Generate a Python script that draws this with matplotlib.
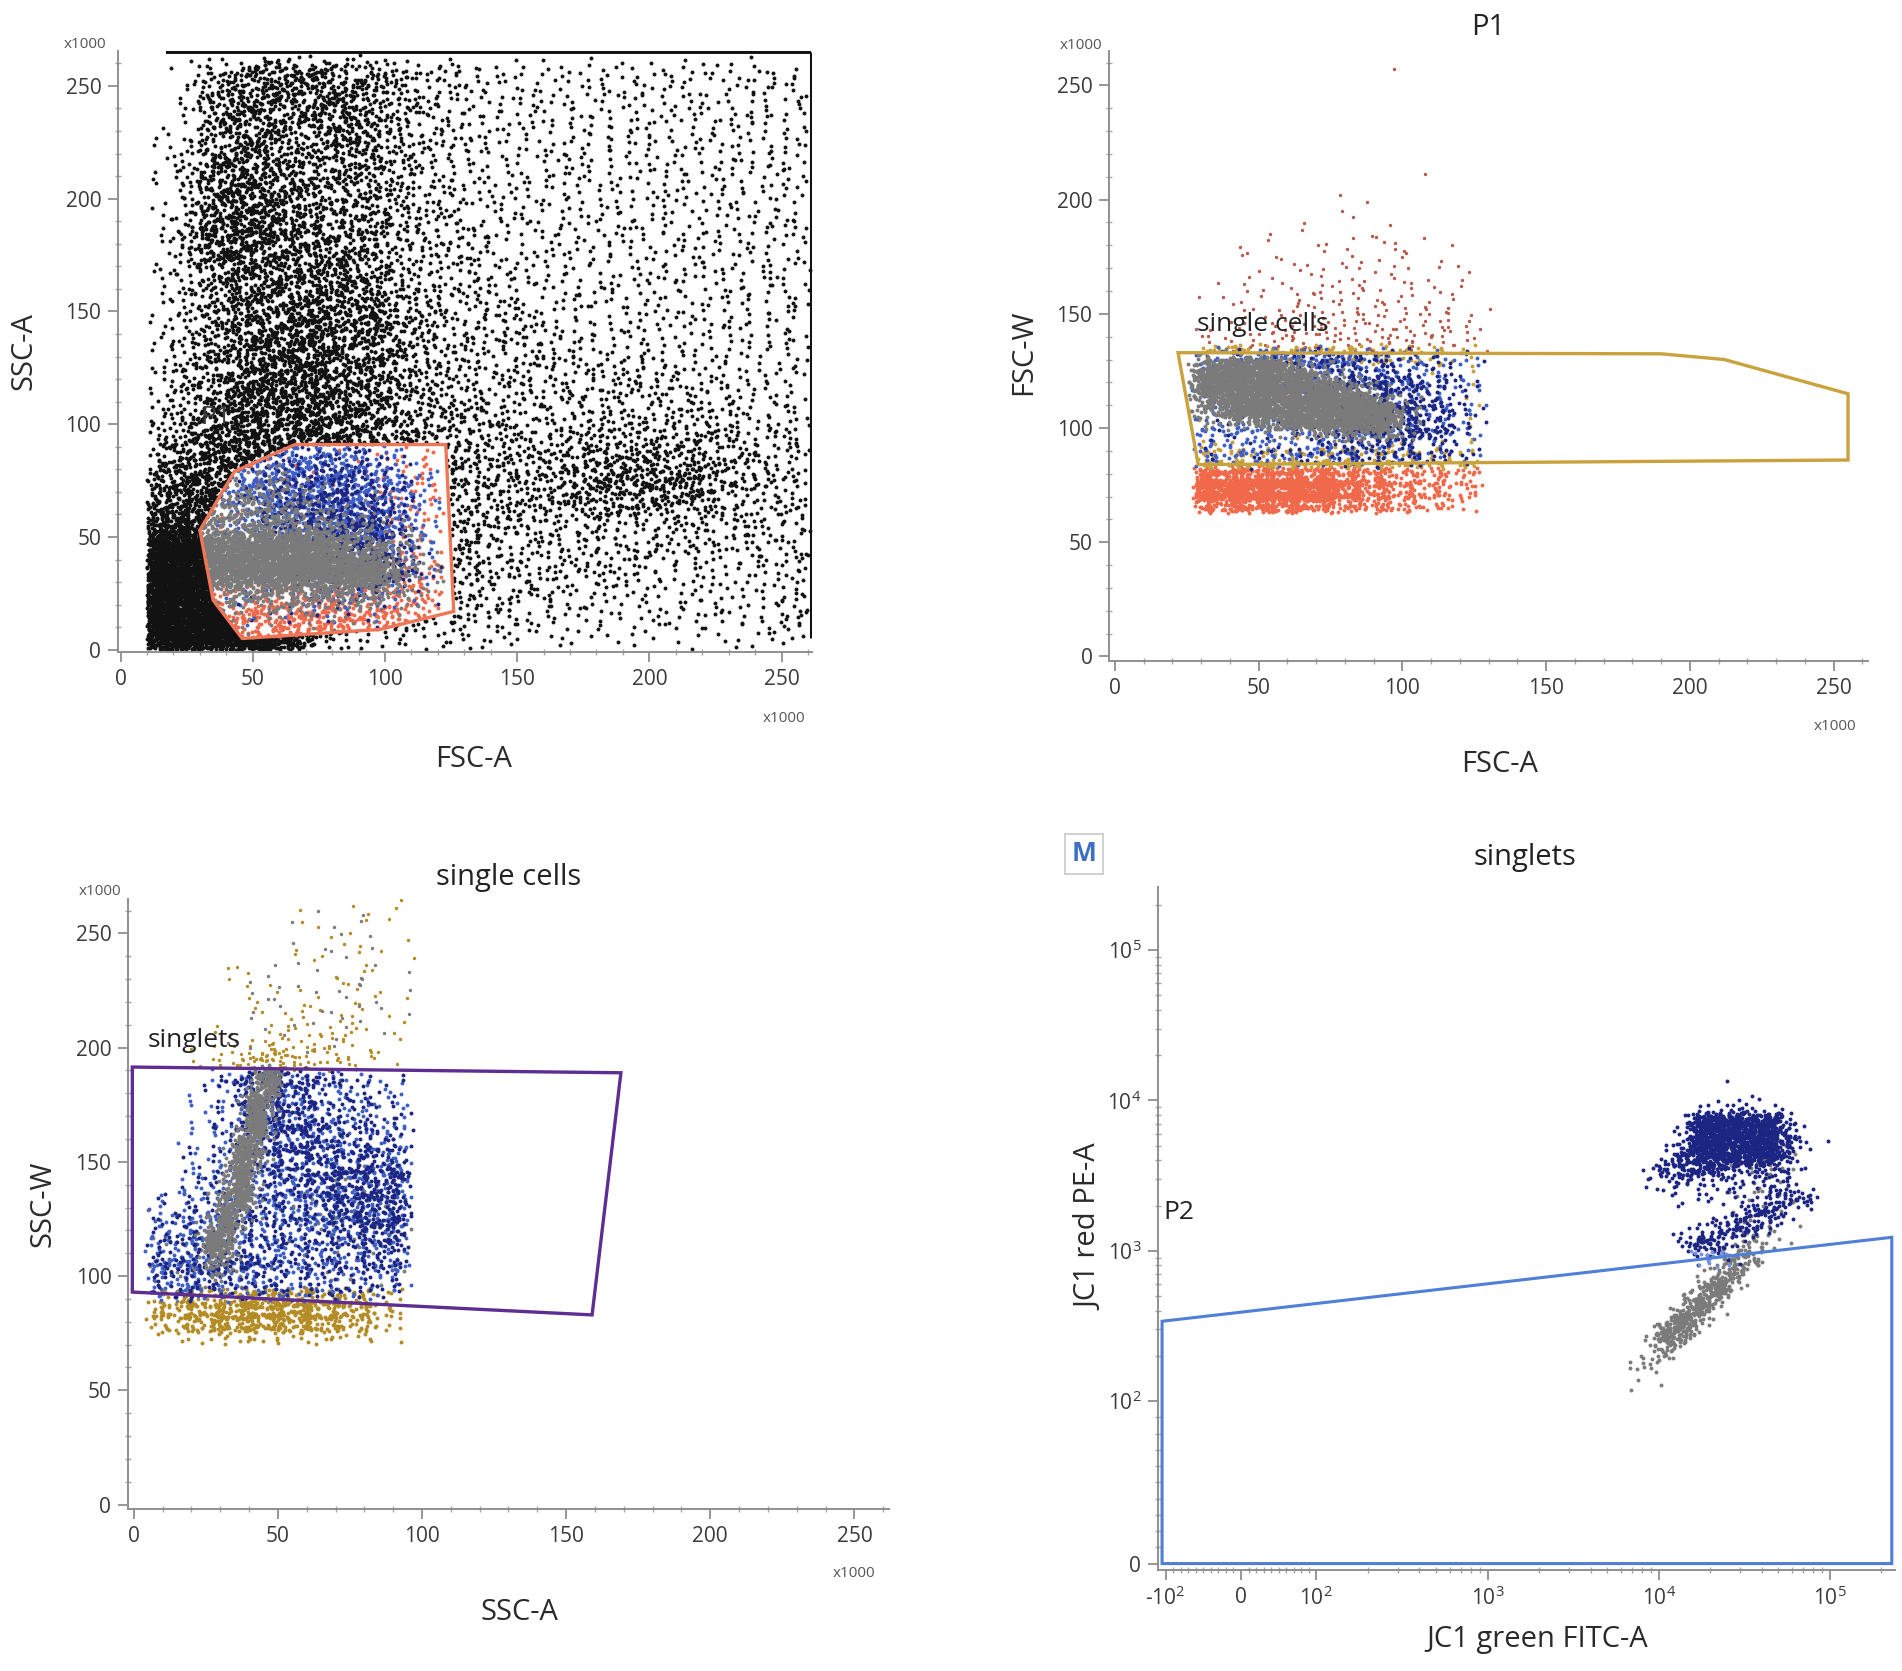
import numpy as np
import matplotlib
matplotlib.use('Agg')
import matplotlib.pyplot as plt
from matplotlib.path import Path
from matplotlib.ticker import MultipleLocator, FixedLocator

plt.rcParams['font.family'] = ['Open Sans', 'DejaVu Sans']
plt.rcParams['mathtext.fontset'] = 'custom'
plt.rcParams['mathtext.rm'] = 'Open Sans'
plt.rcParams['mathtext.default'] = 'regular'

# ---------------------------------------------------------------
# data: event density, one digit (0-9) per cell,
# rows listed top to bottom
# ---------------------------------------------------------------
LEVELS = [0, 2, 4, 7, 11, 17, 26, 38, 60, 160]

# panel 1: SSC-A vs FSC-A (x1000), 10x10 cells from (0, 0)
TL_BLACK = [
    "00145666554332222222222222",
    "00256666654332222222222222",
    "00256656654332222222222222",
    "01256655654332222222222222",
    "01366655554322222222222222",
    "01367665554332222222222222",
    "01367765554332222222222222",
    "01477766554333222222222222",
    "01467666654333222222222222",
    "01356666654333222222222222",
    "01356666664433322222222222",
    "02356677675433332222222222",
    "02356777665433333222222222",
    "02456777665433333333322222",
    "02457777665443333333333222",
    "03467777765444333333333322",
    "04577777765544433444444333",
    "05677777765554444555554433",
    "06777777765554445566665433",
    "07788777765544444555554333",
    "08888777765544433333333333",
    "09998777765544333333333323",
    "09999777665544333333222223",
    "09999877654443333222222223",
    "09999986544433322222222223",
    "09999984322222211111111112",
]
SAT_TOP_X = [17, 261]
SAT_TOP_Y = [265, 265]
SAT_RIGHT_X = [261, 261]
SAT_RIGHT_Y = [5, 265]
# P1 events, 10x10 cells from (20, 0)
TL_SALMON = [
    "00011112230",
    "00111111330",
    "01111111330",
    "01111111330",
    "01111112330",
    "01111122440",
    "03455555550",
    "04677776650",
    "02566665300",
]
TL_ROYAL = [
    "00356654300",
    "02577776530",
    "02577776530",
    "01466677530",
    "00123456420",
    "00012345420",
    "00222333210",
    "00111111100",
    "00000000000",
]
TL_NAVY = [
    "00123343100",
    "00135554300",
    "00146665300",
    "00145677400",
    "00012467410",
    "00011357520",
    "00112222110",
    "00011111000",
    "00000000000",
]
TL_GRAY = [
    "00120000000",
    "03443100000",
    "05665321000",
    "07777654200",
    "09999987520",
    "09999999630",
    "05777776421",
    "01222221100",
    "00000000000",
]
GATE_P1 = [(46, 5), (98, 9), (126, 17), (123, 91), (66, 91), (43, 79), (30, 53), (35, 22)]

# panel 2: FSC-W vs FSC-A, columns of 10 from x = 28
TR_SALMON_BAND = [          # rows of 5 from y = 63
    "8888876554",
    "9999987654",
    "9999987653",
    "7888766542",
]
TR_SALMON_SPARSE = [        # rows of 10 from y = 135
    "0000010000",
    "0001011000",
    "0111112110",
    "0112222211",
    "1122332221",
    "1223333332",
    "2334444433",
]
TR_OUT_X = [97, 108]
TR_OUT_Y = [257, 211]
TR_GOLD = [                 # rows of 5 from y = 82
    "4555544432",
    "3444444332",
    "1000000011",
    "1000000001",
    "1000000001",
    "1000000001",
    "1000000001",
    "1000000001",
    "2111111112",
    "5555555443",
    "6666666554",
]
TR_ROYAL = [                # rows of 10 from y = 84
    "4566654322",
    "4445655432",
    "3333455432",
    "4444455432",
    "4444444321",
]
TR_NAVY = [
    "1223444321",
    "1112456542",
    "1111357652",
    "1112356652",
    "1122344432",
]
TR_GRAY = [                 # rows of 5 from y = 95
    "2210000000",
    "8996300000",
    "9999730000",
    "9999973000",
    "8999996200",
    "7999999300",
    "3689999300",
    "0013677200",
]
GATE_SINGLE = [(22, 133), (190, 132.5), (212, 130), (255, 115), (255, 86), (29, 84)]

# panel 3: SSC-W vs SSC-A, columns of 10 from x = 5
BL_GOLD_BAND = [            # rows of 5 from y = 70
    "355666552",
    "577888763",
    "678888763",
    "467777652",
    "123333321",
]
BL_GOLD_TOP = [             # rows of 10 from y = 190
    "000000011",
    "000001111",
    "000001111",
    "001101111",
    "000111111",
    "000122221",
    "001233321",
    "013565421",
]
BL_GRAY_TOP = [             # rows of 10 from y = 200
    "000001110",
    "000001010",
    "000011111",
    "000111111",
    "000111111",
    "001111110",
]
BL_ROYAL = [                # rows of 10 from y = 90
    "002454321",
    "012454332",
    "012455433",
    "012455544",
    "023455555",
    "134455555",
    "345445555",
    "455444444",
    "565544444",
    "454443332",
]
BL_NAVY = [
    "002565321",
    "002565332",
    "002566443",
    "012556554",
    "012455666",
    "123444666",
    "233444566",
    "344444455",
    "455544444",
    "343333332",
]
BL_GRAY_LOW = [             # rows of 10 from y = 90
    "000001110",
    "000002321",
    "110002331",
    "221001221",
    "222101111",
    "111111110",
]
BL_GRAY_STREAK = [          # columns of 5 from x = 20, rows of 10 from y = 100
    "0000690",
    "0002960",
    "0005930",
    "0019810",
    "0069410",
    "0189400",
    "0595100",
    "1981000",
    "2751000",
]
GATE_SINGLETS = [(-0.5, 191.5), (169, 189), (159, 83), (-0.5, 93)]

# panel 4: JC1 red vs green, log10 cells of 0.1 from log x = 3.8
BR_GRAY = [                 # rows from log y = 2.1
    "0000000121",
    "0000000231",
    "0000001341",
    "0000001231",
    "0000001221",
    "0000001221",
    "0000001331",
    "0000002631",
    "0000008700",
    "0000078000",
    "0000691000",
    "0005940000",
    "0029600000",
    "0098000000",
    "0570000000",
    "2510000000",
    "2200000000",
]
BR_NAVY = [                 # rows from log y = 2.9
    "00000121000",
    "00001333210",
    "00039999961",
    "00059999981",
    "00389999971",
    "03788876651",
    "02554333452",
    "00112233676",
    "00011237831",
    "00013686200",
    "00148720000",
    "00002210000",
]
BR_LIGHT = [                # log x from 4.15, rows of 0.05 from log y = 2.9
    "365",
    "253",
]
BR_OUT_X = [98000]
BR_OUT_Y = [5400]
GATE_P2 = [(-105, 0), (-105, 340), (230000, 1230), (230000, 0)]

# colours
BLACK = '#121212'
GRAY = '#7b7b7b'
NAVY = '#1c2682'
ROYAL = '#3f5fc6'
SALMON = '#f0694b'
RUST = '#b65a4b'
GOLD = '#c9a03c'
OLIVE = '#b38c25'
LIGHT = '#7394dc'


def radical_inverse(idx, base):
    out = np.zeros(len(idx))
    f = 1.0 / base
    i = idx.copy()
    while np.any(i > 0):
        out += f * (i % base)
        i //= base
        f /= base
    return out


def cloud(rows, x0, y0, dx, dy, k=1.0, start=1, blur=0.8):
    # spread each cell's count around the cell centre with a triangular
    # kernel; positions come from a Halton sequence (bases 2, 3, 5, 7)
    cxs, cys, ns = [], [], []
    nrow = len(rows)
    for r, row in enumerate(rows):
        for c, ch in enumerate(row):
            n = int(round(LEVELS[int(ch)] * k))
            if n:
                cxs.append(x0 + (c + 0.5) * dx)
                cys.append(y0 + (nrow - 1 - r + 0.5) * dy)
                ns.append(n)
    if not ns:
        return np.array([]), np.array([])
    cx = np.repeat(cxs, ns)
    cy = np.repeat(cys, ns)
    idx = np.arange(start, start + len(cx))
    u = [radical_inverse(idx, b) for b in (2, 3, 5, 7)]
    return (cx + (u[0] + u[1] - 1.0) * dx * blur,
            cy + (u[2] + u[3] - 1.0) * dy * blur)


def dots(ax, xy, color, s=8, z=2):
    ax.scatter(xy[0], xy[1], s=s, c=color, linewidths=0, zorder=z)


def style_linear(ax, xlim, ylim):
    ax.set_xlim(*xlim)
    ax.set_ylim(*ylim)
    for s in ('top', 'right'):
        ax.spines[s].set_visible(False)
    for s in ('left', 'bottom'):
        ax.spines[s].set_color('#8f8f8f')
        ax.spines[s].set_linewidth(1.4)
    ax.xaxis.set_major_locator(MultipleLocator(50))
    ax.xaxis.set_minor_locator(MultipleLocator(10))
    ax.yaxis.set_major_locator(MultipleLocator(50))
    ax.yaxis.set_minor_locator(MultipleLocator(10))
    ax.tick_params(which='major', direction='out', length=7, width=1.3,
                   color='#8f8f8f', labelsize=15, labelcolor='#3a3a3a', pad=5)
    ax.tick_params(which='minor', direction='inout', length=4, width=1.0, color='#a5a5a5')


def labels(ax, xl, yl, xpos, ypos, mult_top, mult_bot):
    ax.text(xpos[0], xpos[1], xl, transform=ax.transAxes, ha='center', va='center',
            fontsize=21, color='#2a2a2a')
    ax.text(ypos[0], ypos[1], yl, transform=ax.transAxes, ha='center', va='center',
            fontsize=21, color='#2a2a2a', rotation=90)
    if mult_top:
        ax.text(mult_top[0], mult_top[1], 'x1000', transform=ax.transAxes, ha='center',
                va='center', fontsize=11, color='#555555')
        ax.text(mult_bot[0], mult_bot[1], 'x1000', transform=ax.transAxes, ha='center',
                va='center', fontsize=11, color='#555555')


fig = plt.figure(figsize=(19.02, 16.71), dpi=100)

# ---------------- panel 1 ----------------
ax = fig.add_axes([0.0620, 0.6098, 0.3649, 0.3597])
p1 = Path(GATE_P1)
bx, by = cloud(TL_BLACK, 0, 0, 10, 10, 1.6, 17, blur=0.9)
keep = ~p1.contains_points(np.column_stack([bx, by]))
keep &= (bx > 10) & (by > 0) & (by < 265) & (bx < 261)
dots(ax, (bx[keep], by[keep]), BLACK)
ax.plot(SAT_TOP_X, SAT_TOP_Y, color=BLACK, lw=2.8, solid_capstyle='butt', zorder=2)
ax.plot(SAT_RIGHT_X, SAT_RIGHT_Y, color=BLACK, lw=2.2, solid_capstyle='butt', zorder=2)
for rows, col, st in ((TL_SALMON, SALMON, 3001), (TL_ROYAL, ROYAL, 5003),
                      (TL_NAVY, NAVY, 7001), (TL_GRAY, GRAY, 9007)):
    cx, cy = cloud(rows, 20, 0, 10, 10, 1.25, st, blur=0.9)
    ins = p1.contains_points(np.column_stack([cx, cy]))
    dots(ax, (cx[ins], cy[ins]), col)
ax.add_patch(plt.Polygon(GATE_P1, closed=True, fill=False, ec='#ef7656', lw=2.4, zorder=4))
ax.text(36, 103, 'P1', fontsize=19, color='#3a3a3a', ha='center', va='center', zorder=5)
style_linear(ax, (-1, 261.5), (-1, 265.5))
labels(ax, 'FSC-A', 'SSC-A', (0.513, -0.178), (-0.135, 0.50), (-0.048, 1.01), (0.96, -0.111))

# ---------------- panel 2 ----------------
ax = fig.add_axes([0.5831, 0.6044, 0.3991, 0.3650])
dots(ax, cloud(TR_SALMON_BAND, 28, 63, 10, 5, 0.85, 101, blur=0.6), SALMON)
dots(ax, cloud(TR_SALMON_SPARSE, 28, 135, 10, 10, 1.1, 2003), RUST, s=6)
dots(ax, (TR_OUT_X, TR_OUT_Y), RUST, s=6)
dots(ax, cloud(TR_GOLD, 28, 82, 10, 5, 0.6, 4001, blur=0.5), GOLD)
dots(ax, cloud(TR_ROYAL, 28, 84, 10, 10, 1.45, 6007, blur=0.7), ROYAL)
dots(ax, cloud(TR_NAVY, 28, 84, 10, 10, 1.45, 8009, blur=0.7), NAVY)
dots(ax, cloud(TR_GRAY, 28, 95, 10, 5, 0.7, 11003), GRAY)
ax.add_patch(plt.Polygon(GATE_SINGLE, closed=True, fill=False, ec='#c9a23e', lw=2.4, zorder=4))
ax.text(51.5, 145.4, 'single cells', fontsize=19, color='#222222', ha='center', va='center', zorder=5)
style_linear(ax, (-2, 262), (-2, 265))
ax.text(0.5, 1.039, 'P1', transform=ax.transAxes, ha='center', va='center', fontsize=21, color='#222222')
labels(ax, 'FSC-A', 'FSC-W', (0.515, -0.170), (-0.112, 0.507), (-0.037, 1.01), (0.957, -0.108))

# ---------------- panel 3 ----------------
ax = fig.add_axes([0.0673, 0.0969, 0.4001, 0.3650])
dots(ax, cloud(BL_GOLD_BAND, 5, 70, 10, 5, 0.7, 211, blur=0.6), OLIVE)
dots(ax, cloud(BL_GOLD_TOP, 5, 190, 10, 10, 1.1, 1409), OLIVE, s=6)
dots(ax, cloud(BL_GRAY_TOP, 5, 200, 10, 10, 1.1, 2609), GRAY, s=6)
dots(ax, cloud(BL_GRAY_LOW, 5, 90, 10, 10, 1.1, 3803), GRAY)
dots(ax, cloud(BL_ROYAL, 5, 90, 10, 10, 1.4, 5209, blur=0.7), ROYAL)
dots(ax, cloud(BL_NAVY, 5, 90, 10, 10, 1.4, 7411, blur=0.7), NAVY)
dots(ax, cloud(BL_GRAY_STREAK, 20, 100, 5, 10, 0.65, 9601, blur=0.8), GRAY)
ax.add_patch(plt.Polygon(GATE_SINGLETS, closed=True, fill=False, ec='#5e2d91', lw=2.4, zorder=4))
ax.text(21, 203, 'singlets', fontsize=19, color='#222222', ha='center', va='center', zorder=5)
style_linear(ax, (-2, 262), (-2, 265))
ax.text(0.5, 1.036, 'single cells', transform=ax.transAxes, ha='center', va='center', fontsize=21,
        color='#222222')
labels(ax, 'SSC-A', 'SSC-W', (0.515, -0.170), (-0.112, 0.50), (-0.037, 1.013), (0.954, -0.105))

# ---------------- panel 4 ----------------
ax = fig.add_axes([0.6088, 0.0604, 0.3875, 0.4087])
ax.set_xscale('symlog', linthresh=100, linscale=0.396)
ax.set_yscale('symlog', linthresh=100, linscale=0.972)
gx, gy = cloud(BR_GRAY, 3.8, 2.1, 0.1, 0.1, 0.5, 307, blur=0.9)
dots(ax, (10 ** gx, 10 ** gy), GRAY)
nx, ny = cloud(BR_NAVY, 3.8, 2.9, 0.1, 0.1, 0.5, 4409, blur=0.9)
dots(ax, (10 ** nx, 10 ** ny), NAVY)
dots(ax, (BR_OUT_X, BR_OUT_Y), NAVY)
lx, ly = cloud(BR_LIGHT, 4.15, 2.9, 0.1, 0.05, 0.25, 8803, blur=0.8)
dots(ax, (10 ** lx, 10 ** ly), LIGHT)
ax.add_patch(plt.Polygon(GATE_P2, closed=True, fill=False, ec='#4f7fd6', lw=2.2, zorder=4))
ax.set_xlim(-111, 240000)
ax.set_ylim(-4, 262144)
for s in ('top', 'right'):
    ax.spines[s].set_visible(False)
for s in ('left', 'bottom'):
    ax.spines[s].set_color('#8f8f8f')
    ax.spines[s].set_linewidth(1.4)
ax.set_xticks([-100, 0, 100, 1000, 10000, 100000],
              ['-$10^{2}$', '0', '$10^{2}$', '$10^{3}$', '$10^{4}$', '$10^{5}$'])
ax.set_yticks([0, 100, 1000, 10000, 100000],
              ['0', '$10^{2}$', '$10^{3}$', '$10^{4}$', '$10^{5}$'])
minor = [m * d for d in (100, 1000, 10000) for m in range(2, 10)] + [200000]
lin = [v for v in range(10, 100, 10)]
ax.xaxis.set_minor_locator(FixedLocator(minor + lin + [-v for v in lin]))
ax.yaxis.set_minor_locator(FixedLocator(minor + lin))
ax.tick_params(which='major', direction='out', length=7, width=1.3,
               color='#8f8f8f', labelsize=15, labelcolor='#3a3a3a', pad=5)
ax.tick_params(which='minor', direction='inout', length=4, width=1.0, color='#a5a5a5')
ax.text(0.008, 0.523, 'P2', transform=ax.transAxes, ha='left', va='center', fontsize=19,
        color='#222222')
ax.text(0.498, 1.044, 'singlets', transform=ax.transAxes, ha='center', va='center', fontsize=21,
        color='#222222')
labels(ax, 'JC1 green FITC-A', 'JC1 red PE-A', (0.514, -0.102), (-0.092, 0.502), None, None)

fig.text(0.570, 0.489, 'M', ha='center', va='center', fontsize=19, fontweight='bold', color='#3d6fc4',
         bbox=dict(boxstyle='square,pad=0.25', fc='white', ec='#c8c8c8', lw=1.2))

fig.savefig('out.png', dpi=100)
